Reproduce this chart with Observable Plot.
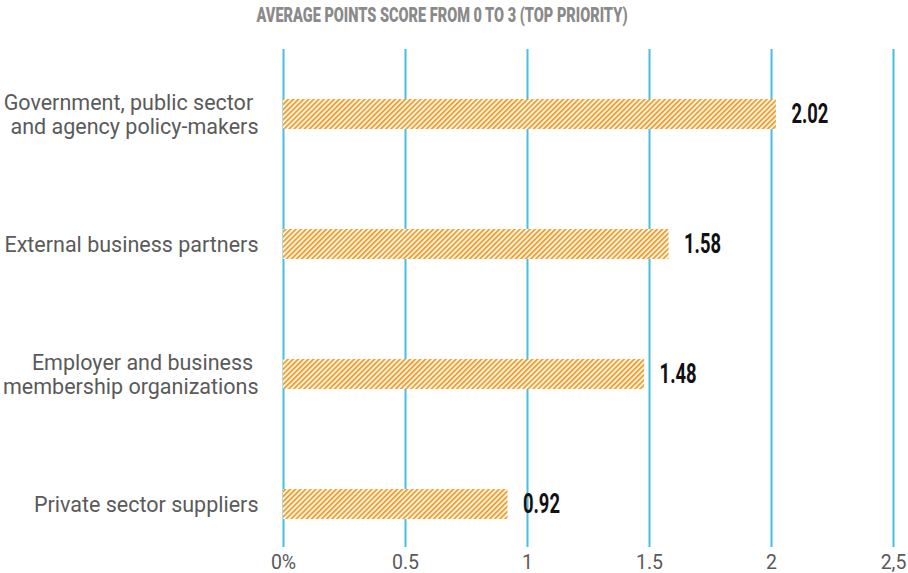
<!DOCTYPE html>
<html>
<head>
<meta charset="utf-8">
<script src="https://cdn.jsdelivr.net/npm/d3@7"></script>
<script src="https://cdn.jsdelivr.net/npm/@observablehq/plot@0.6"></script>
<style>
  html, body { margin: 0; padding: 0; background: #fff; }
  #wrap { width: 908px; height: 573px; position: relative; overflow: hidden; }
  #title {
    height: 40px; width: 908px; position: relative;
    font-family: "Roboto", sans-serif; font-weight: 900; font-size: 20px; color: #8a8a8a;
  }
  #title span { position: absolute; left: 442px; top: 3px; line-height: 24px; white-space: nowrap; transform-origin: 0 50%; }
</style>
</head>
<body>
<div id="wrap">
  <div id="title"><span>AVERAGE POINTS SCORE FROM 0 TO 3 (TOP PRIORITY)</span></div>
  <div id="chart"></div>
</div>
<script>
const categories = [
  "Government, public sector\u00a0\nand agency policy-makers",
  "External business partners",
  "Employer and business\u00a0\nmembership organizations",
  "Private sector suppliers"
];
const scores = [2.02, 1.58, 1.48, 0.92];
const scoreLabels = ["2.02", "1.58", "1.48", "0.92"];
const tickValues = [0, 0.5, 1, 1.5, 2, 2.5];
const tickLabels = ["0%", "0.5", "1", "1.5", "2", "2,5"];

const data = categories.map((c, i) => ({category: c, score: scores[i], label: scoreLabels[i]}));

const gridColor = "#45c0e2";
const barColor = "#f5a02e";

const svg = Plot.plot({
  width: 908,
  height: 533,
  marginLeft: 283,
  marginRight: 15,
  marginTop: 9,
  marginBottom: 26,
  style: {fontFamily: "Roboto, sans-serif", background: "transparent"},
  x: {domain: [0, 2.5]},
  y: {domain: categories, range: [58, 479], paddingInner: 0.77, paddingOuter: 0, axis: null},
  marks: [
    Plot.gridX(tickValues, {stroke: gridColor, strokeOpacity: 1, strokeWidth: 2}),
    Plot.axisX(tickValues, {
      tickSize: 0, tickPadding: 8,
      tickFormat: (d) => tickLabels[tickValues.indexOf(d)],
      fontSize: 19.5, fill: "#5a5a5a", label: null
    }),
    Plot.barX(data, {x: "score", y: "category", fill: "url(#hatch)"}),
    Plot.text(data, {
      x: 0, y: "category", text: "category", textAnchor: "end", dx: -25,
      fontSize: 21.5, fill: "#5a5a5a", lineHeight: 1.12
    }),
    Plot.text(data, {
      x: "score", y: "category", text: "label", textAnchor: "start", dx: 15,
      fontSize: 27, fontWeight: "bold", fill: "#111"
    })
  ]
});

const defs = d3.select(svg).insert("defs", ":first-child");
const pat = defs.append("pattern")
  .attr("id", "hatch")
  .attr("patternUnits", "userSpaceOnUse")
  .attr("width", 3.6).attr("height", 3.6)
  .attr("patternTransform", "rotate(45)");
pat.append("rect").attr("width", 3.6).attr("height", 3.6).attr("fill", "#fff");
pat.append("line").attr("x1", 1).attr("y1", 0).attr("x2", 1).attr("y2", 3.6)
  .attr("stroke", barColor).attr("stroke-width", 2);

document.getElementById("chart").appendChild(svg);

// condense value labels (mimic a narrow display face)
const valueTexts = d3.select(svg).selectAll("text").nodes()
  .filter((t) => scoreLabels.includes(t.textContent.trim()));
if (valueTexts.length) {
  const w = valueTexts[0].getBBox().width;
  const s = 37 / w;
  valueTexts.forEach((t) => {
    const px = parseFloat(t.getAttribute("x")) || 0;
    const old = t.getAttribute("transform") || "";
    t.setAttribute("transform", `${old} translate(${px},0) scale(${s},1) translate(${-px},0)`);
  });
}
// condense title
const span = document.querySelector("#title span");
const tw = span.getBoundingClientRect().width;
const ts = 371 / tw;
span.style.transform = `translateX(${-185.5}px) scale(${ts},1)`;
</script>
</body>
</html>
